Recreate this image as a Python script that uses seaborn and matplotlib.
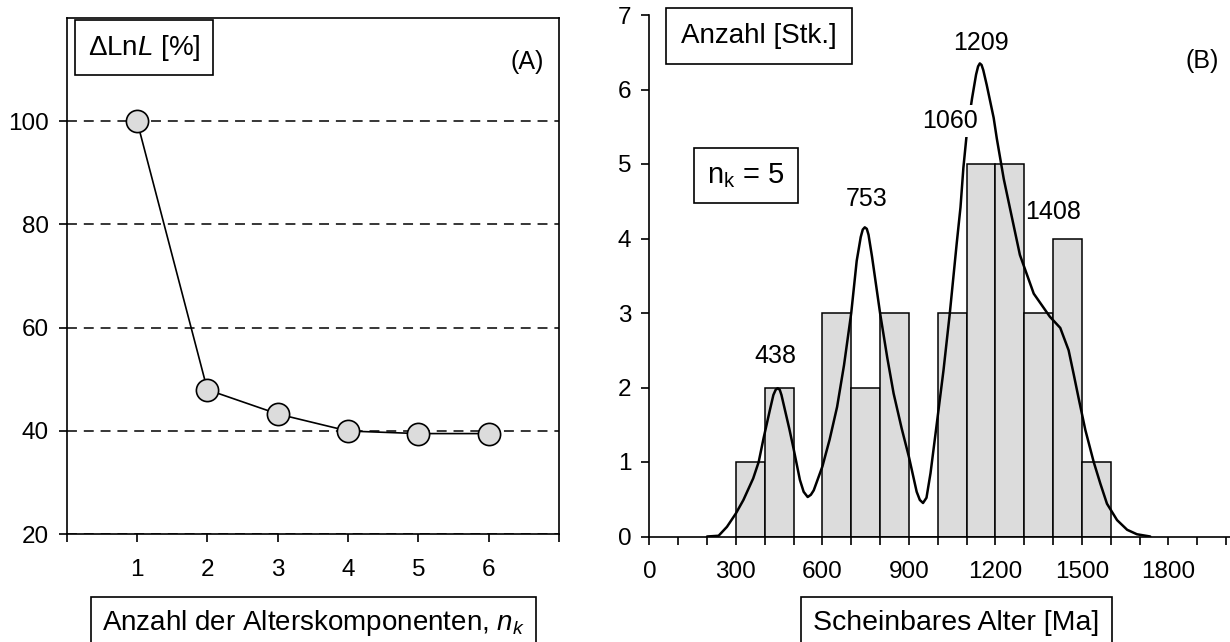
import matplotlib
matplotlib.use("Agg")
import matplotlib.pyplot as plt
import seaborn as sns
import pandas as pd
from matplotlib.ticker import FixedLocator, FixedFormatter

# ---------------- data ----------------
# Panel A
n_components = [1, 2, 3, 4, 5, 6]
delta_lnl = [100.0, 48.0, 43.3, 40.0, 39.5, 39.5]

# Panel B histogram (bin width 100 Ma)
bin_edges = [300, 400, 500, 600, 700, 800, 900, 1000, 1100, 1200, 1300, 1400, 1500, 1600]
bin_counts = [1, 2, 0, 3, 2, 3, 0, 3, 5, 5, 3, 4, 1]

# Panel B mixture curve
curve_age = [200, 240, 269, 300, 326, 360, 379, 396, 418, 430, 438, 445, 452, 458, 470, 485,
             500, 522, 535, 549, 560, 570, 600, 625, 651, 675, 700, 719, 733, 740, 747, 754,
             760, 772, 800, 825, 847, 875, 900, 927, 938, 949, 961, 975, 994, 1020, 1042,
             1066, 1079, 1089, 1100, 1119, 1133, 1140, 1146, 1152, 1158, 1170, 1194, 1205,
             1229, 1252, 1285, 1333, 1389, 1425, 1454, 1472, 1489, 1512, 1541, 1564, 1587,
             1622, 1657, 1691, 1737]
curve_count = [0.0, 0.01, 0.13, 0.31, 0.49, 0.78, 1.0, 1.32, 1.70, 1.90, 1.97, 1.99, 1.97,
               1.90, 1.70, 1.45, 1.18, 0.76, 0.60, 0.53, 0.56, 0.62, 0.94, 1.30, 1.74, 2.30,
               3.0, 3.70, 4.02, 4.12, 4.15, 4.13, 4.05, 3.76, 3.0, 2.40, 1.92, 1.45, 1.07,
               0.60, 0.49, 0.45, 0.52, 0.85, 1.43, 2.23, 3.0, 3.94, 4.42, 4.95, 5.38, 5.88,
               6.2, 6.31, 6.35, 6.33, 6.26, 6.06, 5.62, 5.34, 4.80, 4.38, 3.78, 3.26, 2.95,
               2.80, 2.50, 2.17, 1.85, 1.43, 1.0, 0.71, 0.44, 0.22, 0.09, 0.03, 0.0]

peak_labels = ["438", "753", "1060", "1209", "1408"]

a_yticks = [20, 40, 60, 80, 100]
a_xticks = [0, 1, 2, 3, 4, 5, 6, 7]
a_xticklabels = ["", "1", "2", "3", "4", "5", "6", ""]
b_yticks = [0, 1, 2, 3, 4, 5, 6, 7]
b_xticks = list(range(0, 2001, 100))
b_xticklabels = [str(v) if v % 300 == 0 else "" for v in b_xticks]

# ---------------- style ----------------
sns.set_theme(style="ticks", rc={
    "axes.edgecolor": "black", "text.color": "black", "axes.labelcolor": "black",
    "xtick.color": "black", "ytick.color": "black", "axes.linewidth": 1.2,
})
plt.rcParams["font.family"] = ["Liberation Sans", "DejaVu Sans"]
plt.rcParams["mathtext.fontset"] = "custom"
plt.rcParams["mathtext.rm"] = "Liberation Sans"
plt.rcParams["mathtext.it"] = "Liberation Sans:italic"

W, H = 1230, 642
fig = plt.figure(figsize=(W / 100, H / 100), dpi=100)
fig.patch.set_facecolor("white")

def px_axes(x0, x1, ytop, ybot):
    return [x0 / W, 1 - ybot / H, (x1 - x0) / W, (ybot - ytop) / H]

axA = fig.add_axes(px_axes(66.7, 559, 17.8, 534.3))
axB = fig.add_axes(px_axes(649.4, 1230, 15, 536.5))

grey = "#dcdcdc"

def box(pad):
    return dict(boxstyle=f"square,pad={pad}", facecolor="white", edgecolor="black", linewidth=1.2)

TICK = 17.5

# ---------------- Panel A ----------------
dfA = pd.DataFrame({"n": n_components, "dlnl": delta_lnl})
sns.lineplot(data=dfA, x="n", y="dlnl", ax=axA, color="black", linewidth=1.2,
             marker="o", markersize=16, markerfacecolor=grey, markeredgecolor="black",
             markeredgewidth=1.2, zorder=3)
axA.set_xlim(0, 7)
axA.set_ylim(20, 120)
axA.yaxis.set_major_locator(FixedLocator(a_yticks))
axA.xaxis.set_major_locator(FixedLocator(a_xticks))
axA.xaxis.set_major_formatter(FixedFormatter(a_xticklabels))
axA.yaxis.grid(True, color="black", linewidth=1.1, linestyle=(0, (6.5, 4.5)))
axA.set_axisbelow(True)
axA.tick_params(axis="both", direction="out", length=6, width=1.2, labelsize=TICK)
axA.tick_params(axis="x", pad=12)
axA.tick_params(axis="y", pad=7)
axA.set_xlabel("")
axA.set_ylabel("")
for s in axA.spines.values():
    s.set_linewidth(1.2)
axA.text(1.10, 114.2, r"ΔLn$\mathit{L}$ [%]", fontsize=20, ha="center", va="center", bbox=box(0.45))
axA.text(6.55, 111.5, "(A)", fontsize=18, ha="center", va="center")

# ---------------- Panel B ----------------
centers = [(a + b) / 2 for a, b in zip(bin_edges[:-1], bin_edges[1:])]
dfH = pd.DataFrame({"age": centers, "count": bin_counts})
sns.histplot(data=dfH, x="age", weights="count", bins=bin_edges, ax=axB,
             color=grey, edgecolor="black", linewidth=1.1, alpha=1.0, zorder=2)
dfC = pd.DataFrame({"age": curve_age, "count": curve_count})
sns.lineplot(data=dfC, x="age", y="count", ax=axB, color="black", linewidth=1.8,
             sort=False, zorder=4)
axB.set_xlim(0, 2013.7)
axB.set_ylim(0, 7)
axB.yaxis.set_major_locator(FixedLocator(b_yticks))
axB.xaxis.set_major_locator(FixedLocator(b_xticks))
axB.xaxis.set_major_formatter(FixedFormatter(b_xticklabels))
axB.tick_params(axis="both", direction="out", length=6, width=1.2, labelsize=TICK)
axB.tick_params(axis="x", pad=12)
axB.tick_params(axis="y", pad=7)
axB.set_xlabel("")
axB.set_ylabel("")
sns.despine(ax=axB)
for s in axB.spines.values():
    s.set_linewidth(1.2)

axB.text(381, 6.72, "Anzahl [Stk.]", fontsize=20, ha="center", va="center", bbox=box(0.55))
axB.text(335, 4.85, r"n$_\mathregular{k}$ = 5", fontsize=21, ha="center", va="center",
         bbox=box(0.45))
axB.text(1917, 6.38, "(B)", fontsize=18, ha="center", va="center")

label_pos = [(438, 2.42), (753, 4.53), (1044, 5.58), (1150, 6.63), (1399, 4.35)]
for txt, (lx, ly) in zip(peak_labels, label_pos):
    kw = {}
    if txt == "1060":
        kw["bbox"] = dict(boxstyle="square,pad=0.15", facecolor="white", edgecolor="none")
    axB.text(lx, ly, txt, fontsize=18, ha="center", va="center", zorder=6, **kw)

# ---------------- boxed axis titles ----------------
fig.text(313.5 / W, 1 - 630 / H, r"Anzahl der Alterskomponenten, $n_k$", fontsize=20,
         ha="center", va="baseline", bbox=box(0.38))
fig.text(956.5 / W, 1 - 630 / H, "Scheinbares Alter [Ma]", fontsize=20.5,
         ha="center", va="baseline", bbox=box(0.45))

fig.savefig("out.png", dpi=100, facecolor="white")
